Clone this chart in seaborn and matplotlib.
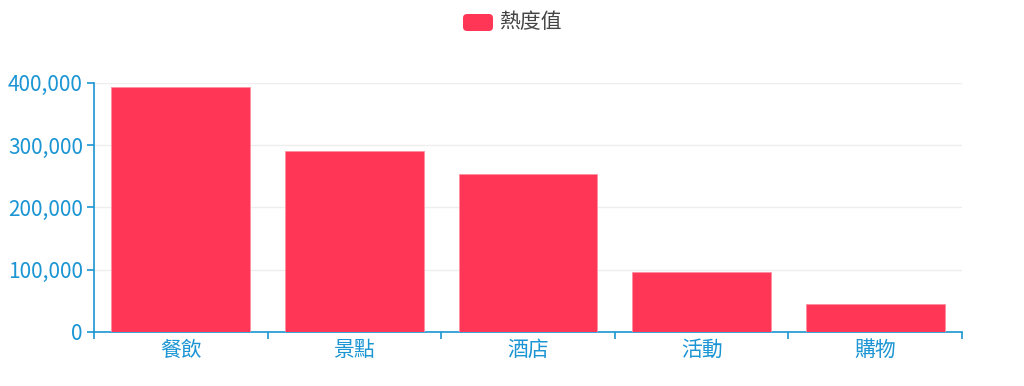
import matplotlib
matplotlib.use("Agg")
import matplotlib.pyplot as plt
import seaborn as sns
import pandas as pd
from matplotlib.patches import FancyBboxPatch
from matplotlib.ticker import FuncFormatter, MultipleLocator, FixedLocator

categories = ["餐飲", "景點", "酒店", "活動", "購物"]
values = [393500, 290000, 253500, 97000, 45000]
series_name = "熱度值"

sns.set_theme(style="white")
plt.rcParams['font.family'] = ['Noto Sans CJK TC', 'DejaVu Sans']

BAR = "#FF3655"
AXC = "#1B95D3"

df = pd.DataFrame({"cat": categories, "val": values})

W, H = 1024, 386
fig = plt.figure(figsize=(W / 100, H / 100), dpi=100)
ax = fig.add_axes([94 / W, (H - 332) / H, (962 - 94) / W, (332 - 82.7) / H])

sns.barplot(data=df, x="cat", y="val", color=BAR, width=0.8, ax=ax,
            saturation=1, edgecolor="#FF8FA0", linewidth=0.6, zorder=3)

ax.set_xlim(-0.5, len(categories) - 0.5)
ax.set_ylim(0, 400000)
ax.yaxis.set_major_locator(MultipleLocator(100000))
ax.yaxis.set_major_formatter(FuncFormatter(lambda v, p: f"{int(v):,}"))
ax.grid(axis="y", color="#EEEEEE", linewidth=1, zorder=0)
ax.set_axisbelow(True)

for s in ["top", "right"]:
    ax.spines[s].set_visible(False)
for s in ["left", "bottom"]:
    ax.spines[s].set_color(AXC)
    ax.spines[s].set_linewidth(1.2)

ax.set_xlabel("")
ax.set_ylabel("")
ax.tick_params(axis="x", which="major", length=0, pad=5, labelsize=15, labelcolor=AXC)
ax.xaxis.set_minor_locator(FixedLocator([i - 0.5 for i in range(len(categories) + 1)]))
ax.tick_params(axis="x", which="minor", length=5, width=1.2, color=AXC,
               direction="out", bottom=True)
ax.tick_params(axis="y", which="major", length=5, width=1.2, color=AXC, pad=3,
               labelsize=15, labelcolor=AXC, left=True, direction="out")

# legend
fig.patches.append(FancyBboxPatch((463 / W, (H - 31) / H), 30 / W, 17 / H,
                                  boxstyle="round,pad=0,rounding_size=0.004",
                                  transform=fig.transFigure, facecolor=BAR,
                                  edgecolor="none", mutation_aspect=W / H))
fig.text(499 / W, (H - 22) / H, series_name, fontsize=15, color="#444444",
         va="center", ha="left")

fig.savefig("out.png", dpi=100, facecolor="white")
